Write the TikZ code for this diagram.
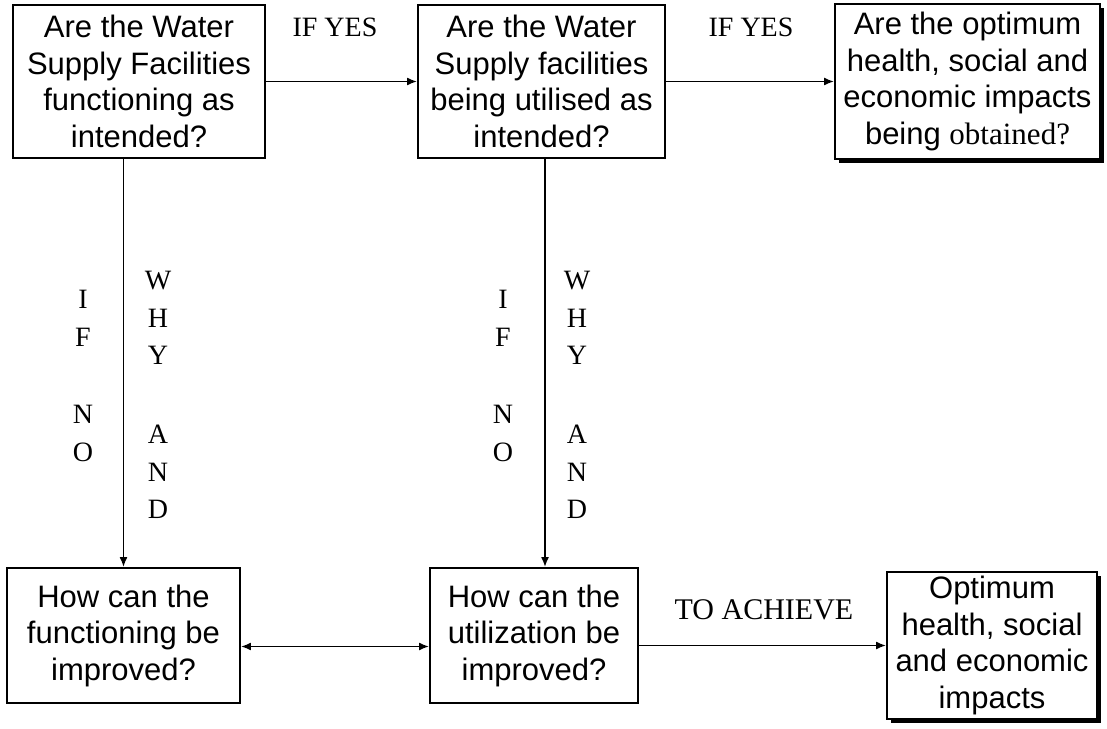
\documentclass[tikz,border=0pt]{standalone}
\usepackage{fontspec}
\setmainfont{Liberation Sans}
\newfontfamily\lblfont{Liberation Serif}
\usetikzlibrary{arrows.meta,shadows}
\begin{document}
\begin{tikzpicture}[x=1bp,y=-1bp,
  box/.style={draw, fill=white, line width=1.8bp, inner sep=0pt, align=center,
    font=\fontsize{31bp}{36.5bp}\selectfont},
  shadowbox/.style={box, general shadow={shadow xshift=4bp, shadow yshift=-4bp, fill=black, opacity=1}},
  conn/.style={line width=1.8bp, -{Latex[length=10bp,width=8bp]}},
  lbl/.style={inner sep=0pt, align=center, font=\lblfont\fontsize{28bp}{37.5bp}\selectfont}
]
\useasboundingbox (0,0) rectangle (1107,729);

% top row
\node[box, minimum width=252bp, minimum height=153bp] (A) at (139,81.5)
  {Are the Water\\Supply Facilities\\functioning as\\intended?};
\node[box, minimum width=247bp, minimum height=153bp] (B) at (541.5,81.5)
  {Are the Water\\Supply facilities\\being utilised as\\intended?};
\node[shadowbox, minimum width=265bp, minimum height=155bp] (C) at (967.5,81.5)
  {Are the optimum\\health, social and\\economic impacts\\being {\lblfont obtained?}};

% bottom row
\node[box, minimum width=233bp, minimum height=135bp] (D) at (123.5,635.5)
  {How can the\\functioning be\\improved?};
\node[box, minimum width=208bp, minimum height=135bp] (E) at (534,635.5)
  {How can the\\utilization be\\improved?};
\node[shadowbox, minimum width=210bp, minimum height=147bp] (F) at (992,645.5)
  {Optimum\\health, social\\and economic\\impacts};

% horizontal connectors
\draw[conn] (A.east) -- (B.west);
\draw[conn] (B.east) -- (C.west);
\draw[line width=1.8bp, {Latex[length=10bp,width=8bp]}-{Latex[length=10bp,width=8bp]}]
  ([yshift=-11bp]D.east) -- ([yshift=-11bp]D.east -| E.west);
\draw[conn] (E.east |- F.west) -- (F.west);

% vertical connectors
\draw[conn] (A.south -| D.north) -- (D.north);
\draw[conn] ([xshift=3.5bp]B.south) -- ([xshift=3.5bp]B.south |- E.north);

% labels
\node[lbl] (y1) at (335,27) {IF YES};
\node[lbl] (y2) at (751,27) {IF YES};
\node[lbl, font=\lblfont\fontsize{30bp}{36bp}\selectfont] (ach) at (764,610) {TO ACHIEVE};

\node[lbl] (n1) at (83,376) {I\\F\\[40bp]N\\O};
\node[lbl] (w1) at (158,395) {W\\H\\Y\\[41.5bp]A\\N\\D};
\node[lbl] (n2) at (503,376) {I\\F\\[40bp]N\\O};
\node[lbl] (w2) at (577,395) {W\\H\\Y\\[41.5bp]A\\N\\D};
\end{tikzpicture}
\end{document}
